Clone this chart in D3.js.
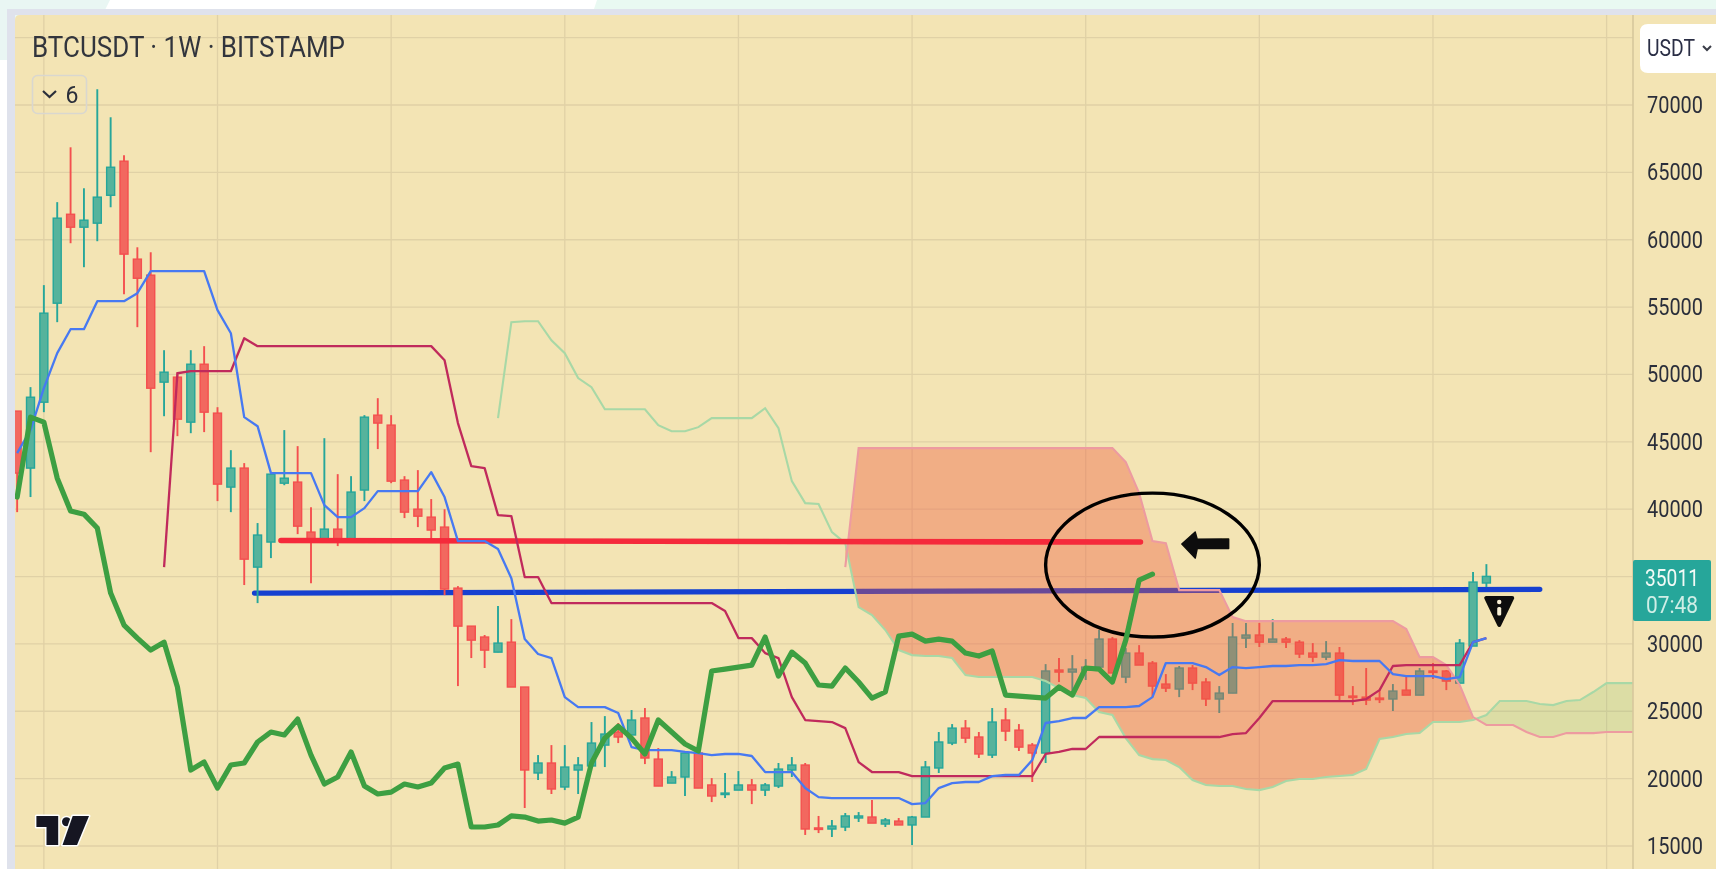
<!DOCTYPE html>
<html><head><meta charset="utf-8">
<script src="https://cdn.jsdelivr.net/npm/d3@7/dist/d3.min.js"></script>
<style>html,body{margin:0;padding:0;background:#fff;overflow:hidden}svg{display:block}</style>
</head><body><svg id="c" width="1716" height="869"></svg>
<script>
const title="BTCUSDT · 1W · BITSTAMP";
const priceTicks=[70000,65000,60000,55000,50000,45000,40000,35000,30000,25000,20000,15000];
const gridPrices=[75000,70000,65000,60000,55000,50000,45000,40000,35000,30000,25000,20000,15000];
const gridWeeks=[2,15,28,41,54,67,80,93,106,119];
const lastPrice=35011, countdown="07:48";
const opens=[47280,43050,47940,55290,61890,60930,61230,63300,65830,58560,57370,49430,49800,46460,50760,47130,41640,43050,35700,37560,41930,42010,38300,37560,38520,37700,41420,46980,46240,42160,40000,39410,38670,34140,31320,30510,29390,30130,26800,20420,21160,19380,20640,20940,22490,23460,23240,24500,21450,19670,20120,21900,19530,18860,19150,19530,19150,19450,20640,21010,16340,16260,16410,17080,17150,16630,16850,16560,17150,20790,22640,23750,23090,21750,24350,23600,22490,21900,28060,27910,28060,28280,30360,27540,29320,28580,27020,26650,28210,27170,25910,26350,30430,30660,30130,30360,30130,29320,29020,29320,26130,26050,25980,25910,26570,26200,27990,27990,27090,29840,34520];
const highs=[47280,49060,56630,62790,66860,63820,71170,69090,66270,59440,59070,51800,50170,51800,52100,47570,44380,43420,38970,42680,45870,44680,40150,45270,42600,42450,46980,48240,46980,42450,42900,40750,40000,34290,31320,30660,32810,31840,26800,21750,22490,22490,21600,24200,24640,24130,25090,25240,22270,20560,21980,21980,20040,20420,20560,19970,19670,21160,21600,21160,17230,16930,17450,17520,18410,17080,17080,17230,21310,23460,24050,24350,23460,25240,25240,24050,22640,28500,28950,29170,28870,31030,30510,29690,29910,28730,27760,28360,28430,27460,26870,31550,31550,31550,31840,30510,30280,30060,30210,29770,26870,28210,26570,27020,27610,28210,28580,28060,30360,35330,35920];
const lows=[39780,40900,47200,53880,59740,57960,59890,62410,55960,53510,44230,46900,45420,45640,45720,40600,39780,34370,33030,36370,41780,38150,34510,37560,37260,37700,40600,44460,41930,39340,38670,37560,33620,26870,28950,28210,29390,26800,17820,19900,18860,19150,18860,20940,20860,22640,23240,21080,19450,19670,18710,19300,18260,18560,19150,18110,18710,19300,20120,15820,15960,15670,16110,16780,16700,16410,16560,15070,17150,20420,22490,22640,21530,21530,22790,22050,19750,21160,27170,26350,27320,28280,27840,27090,28430,26050,26430,26050,26570,25390,24870,26350,29690,29770,30130,29690,28950,28650,28800,25830,25460,25460,25610,25020,26200,26200,27390,26570,27090,29840,34220];
const closes=[42680,48310,54550,61600,60930,61450,63160,65380,58930,57140,48980,50170,46680,50760,47200,41860,43050,36290,38080,42600,42300,38740,37630,38520,37700,41270,46830,46390,42080,39780,39480,38450,34070,31320,30280,29540,30060,26800,20640,21160,19230,20860,21010,22640,23310,23090,24350,21530,19450,20120,21900,19300,18710,18930,19530,19150,19530,20710,21010,16260,16260,16480,17230,17230,16700,16930,16560,17150,20860,22720,23750,23010,21830,24200,23530,22340,21900,27990,27910,28130,28280,30360,27840,29320,28430,26870,26720,28210,27090,25910,26350,30510,30660,30130,30360,30130,29250,29020,29320,26200,26050,25830,25910,26500,26200,27990,27910,27240,30060,34590,35011];
const chikou=[40900,46830,46460,42300,39860,39630,38600,33770,31400,30430,29540,30130,26800,20640,21230,19300,21010,21160,22720,23460,23240,24420,21750,19600,20120,21980,19450,18860,19000,19600,19380,19670,20790,21080,16410,16410,16560,17230,17150,16850,16930,16700,17150,21160,23010,23900,23010,21830,24350,23460,22570,22050,27990,28130,28280,28430,30510,27610,29390,28580,26950,26870,28210,27170,25980,26430,30580,30730,30210,30360,30210,29320,29100,29470,26200,26130,26050,25980,26800,26200,28210,28130,27170,30280,34740,35180];
const tenkan=[44160,45870,48980,51580,53360,53360,55440,55440,55440,56030,57670,57670,57670,57670,57670,54770,53060,46830,46160,42680,42680,42680,42680,40300,39410,39410,40080,41340,41340,41340,41340,42750,40900,37630,37630,37630,37040,34880,30360,29250,28950,26050,25310,25310,25310,24870,22340,22120,22120,22120,21980,21900,21750,21830,21830,21680,20490,20490,20490,19300,18630,18560,18560,18560,18560,18560,18560,18110,18190,19300,19670,19750,19750,20190,20270,20270,21380,24130,24270,24500,24500,25310,25310,25310,25390,26050,28580,28580,28580,28280,27690,28280,28210,28280,28360,28360,28430,28430,28500,28800,28730,28730,28730,27760,27610,27610,27610,27390,27540,30130,30430];
const kijunStart=11;
const kijun=[35700,50090,50240,50240,50240,50240,52690,52100,52100,52100,52100,52100,52100,52100,52100,52100,52100,52100,52100,52100,52100,51060,46390,43200,43050,39560,39490,34960,34960,33030,33030,33030,33030,33030,33030,33030,33030,33030,33030,33030,33030,33030,32440,30430,30430,29320,28950,26050,24350,24270,24200,23750,21230,20490,20490,20490,20190,20190,20190,20190,20190,20190,20190,20190,20190,20190,21830,21980,22200,22200,23090,23090,23090,23090,23090,23090,23090,23090,23090,23090,23310,23380,24500,25760,25760,25760,25760,25760,25760,25760,25910,26570,28360,28430,28430,28430,28430,28430,30130,30430];
const spanAStart=36;
const spanA=[46760,53880,53950,53950,52540,51580,49730,49060,47420,47420,47420,47420,46240,45790,45790,46090,46760,46760,46760,46760,47500,46010,42080,40450,40380,38300,37480,32730,32140,31030,29540,29170,29100,29100,28950,27690,27540,27540,27540,27540,27540,27240,26720,26200,25980,24940,24720,23010,21750,21450,21380,20860,19900,19530,19450,19450,19230,19150,19380,19820,19970,19970,20120,20190,20270,20710,22940,23090,23310,23380,24200,24200,24200,24350,24720,25760,25760,25760,25540,25460,25760,25830,26430,27090,27090,27090];
const spanBStart=62;
const spanB=[35700,44530,44530,44530,44530,44530,44530,44530,44530,44530,44530,44530,44530,44530,44530,44530,44530,44530,44530,44530,44530,43490,41190,37630,37480,33990,33990,33990,33990,31990,31690,31690,31690,31690,31690,31690,31690,31690,31690,31690,31690,31690,31100,29020,29020,28430,26950,24570,23980,23980,23980,23460,23090,23090,23380,23380,23380,23460,23460,23460];
const cloudSwitchWeek=109;
const resistanceLine=[[19.75,37670],[84.1,37560]];
const supportLine=[[17.77,33770],[114,34050]];
const circleWeeks=[77,93], circlePrices=[30510,41190];
const arrowShape=[[87.2,37410],[88.2,38300],[88.35,37760],[90.7,37790],[90.7,37080],[88.35,37090],[88.2,36370]];

const svg=d3.select("#c");
const defs=svg.append("defs");
defs.append("filter").attr("id","soft")
  .attr("filterUnits","userSpaceOnUse").attr("x",0).attr("y",0).attr("width",1716).attr("height",869)
  .append("feGaussianBlur").attr("stdDeviation",0.75);
defs.append("clipPath").attr("id","plot").append("rect").attr("x",15).attr("y",15).attr("width",1618).attr("height",854);

const x=d3.scaleLinear().domain([0,110]).range([17.15,1486.4]);
const y=d3.scaleLinear().domain([15000,70000]).range([846,105]);

// page chrome
const bg=svg.append("g");
bg.append("rect").attr("width",1716).attr("height",869).attr("fill","#fff");
bg.append("path").attr("d","M0,0H110L100,20L60,60H7V60H0Z").attr("fill","#e9f6f3");
bg.append("path").attr("d","M597,0H1716V9H594Z").attr("fill","#e9f9f2");
bg.append("rect").attr("x",7).attr("y",9).attr("width",1709).attr("height",6).attr("fill","#dfe2ec");
bg.append("rect").attr("x",7).attr("y",9).attr("width",8).attr("height",860).attr("fill","#dfe2ec");
bg.append("path").attr("d","M20,15H1716V869H15V20Q15,15 20,15Z").attr("fill","#f3e4b4");

const root=svg.append("g").attr("filter","url(#soft)");
const plot=root.append("g").attr("clip-path","url(#plot)");

// grid
plot.append("g").selectAll("line").data(gridPrices).join("line")
  .attr("x1",15).attr("x2",1633).attr("y1",d=>y(d)).attr("y2",d=>y(d))
  .attr("stroke","#e0d1a6").attr("stroke-width",1.3);
plot.append("g").selectAll("line").data(gridWeeks).join("line")
  .attr("x1",d=>x(d)).attr("x2",d=>x(d)).attr("y1",15).attr("y2",869)
  .attr("stroke","#e0d1a6").attr("stroke-width",1.3);

const pts=(arr,start)=>arr.map((v,i)=>[i+start,v]);
const line=d3.line().x(d=>x(d[0])).y(d=>y(d[1]));

// blue level sits beneath the cloud
plot.append("path").attr("d",line(supportLine)).attr("fill","none")
  .attr("stroke","#1440d0").attr("stroke-width",5.2).attr("stroke-linecap","round");

// candles
const UP="#26a69a",DOWN="#f4504f";
const candles=opens.map((o,i)=>({i,o,h:highs[i],l:lows[i],c:closes[i]}));
const cg=plot.append("g").selectAll("g").data(candles).join("g");
cg.append("line").attr("x1",d=>x(d.i)).attr("x2",d=>x(d.i)).attr("y1",d=>y(d.h)).attr("y2",d=>y(d.l))
  .attr("stroke",d=>d.c>=d.o?UP:DOWN).attr("stroke-width",1.9);
cg.append("rect").attr("x",d=>x(d.i)-4).attr("width",8)
  .attr("y",d=>y(Math.max(d.o,d.c))).attr("height",d=>Math.max(1.5,Math.abs(y(d.o)-y(d.c))))
  .attr("fill",d=>d.c>=d.o?"#56b39c":"#f2675e")
  .attr("stroke",d=>d.c>=d.o?UP:DOWN).attr("stroke-width",1.4);

// cloud
const aAt=i=>spanA[i-spanAStart], bAt=i=>spanB[i-spanBStart];
const area=d3.area().x(d=>x(d)).y0(d=>y(aAt(d))).y1(d=>y(bAt(d)));
const lastWeek=spanBStart+spanB.length-1;
plot.append("path").attr("d",area(d3.range(spanBStart,cloudSwitchWeek+1))).attr("fill","#f0583c").attr("fill-opacity",0.38);
plot.append("path").attr("d",area(d3.range(cloudSwitchWeek,lastWeek+1))).attr("fill","#4caf50").attr("fill-opacity",0.13);
plot.append("path").attr("d",line(pts(spanA,spanAStart))).attr("fill","none").attr("stroke","#a8d8a6").attr("stroke-width",2.1);
plot.append("path").attr("d",line(pts(spanB,spanBStart))).attr("fill","none").attr("stroke","#ed9ba0").attr("stroke-width",2.1);

// red level + circle annotation
plot.append("path").attr("d",line(resistanceLine)).attr("fill","none")
  .attr("stroke","#f52a3a").attr("stroke-width",5.6).attr("stroke-linecap","round");
plot.append("ellipse")
  .attr("cx",(x(circleWeeks[0])+x(circleWeeks[1]))/2).attr("cy",(y(circlePrices[0])+y(circlePrices[1]))/2)
  .attr("rx",(x(circleWeeks[1])-x(circleWeeks[0]))/2).attr("ry",(y(circlePrices[0])-y(circlePrices[1]))/2)
  .attr("fill","none").attr("stroke","#060302").attr("stroke-width",3.4);

// indicator lines
plot.append("path").attr("d",line(pts(kijun,kijunStart))).attr("fill","none").attr("stroke","#c02a5c").attr("stroke-width",2.3).attr("stroke-linejoin","round");
plot.append("path").attr("d",line(pts(tenkan,0))).attr("fill","none").attr("stroke","#4679f2").attr("stroke-width",2.3).attr("stroke-linejoin","round");
plot.append("path").attr("d",line(pts(chikou,0))).attr("fill","none").attr("stroke","#3d9f42").attr("stroke-width",5.2).attr("stroke-linejoin","round").attr("stroke-linecap","round");

// arrow
plot.append("path").attr("d",line(arrowShape)+"Z").attr("fill","#0a0a08").attr("stroke","#0a0a08").attr("stroke-width",1.5).attr("stroke-linejoin","round");

// warning triangle
const warn=root.append("g").attr("transform",`translate(${x(110.96)},597)`);
warn.append("path").attr("d","M-13,1H13L0,28Z").attr("fill","#0d0b08").attr("stroke","#0d0b08").attr("stroke-width",4).attr("stroke-linejoin","round");
warn.append("circle").attr("cy",5).attr("r",2.2).attr("fill","#f6efd6");
warn.append("rect").attr("x",-2).attr("y",10).attr("width",4).attr("height",8.5).attr("rx",1.5).attr("fill","#f6efd6");

// axis
const ink="#2b2f3a";
root.append("line").attr("x1",1633).attr("x2",1633).attr("y1",15).attr("y2",869).attr("stroke","#d6c79c").attr("stroke-width",1.6);
const axis=root.append("g").attr("transform","translate(1647,0)")
  .call(d3.axisRight(y).tickValues(priceTicks).tickSize(0).tickPadding(0).tickFormat(d3.format("d")));
axis.select(".domain").remove();
axis.selectAll("text").attr("font-family","Roboto").attr("font-size",23).attr("fill",ink)
  .attr("textLength",56).attr("lengthAdjust","spacingAndGlyphs");

// price tag
root.append("rect").attr("x",1633).attr("y",560).attr("width",78).attr("height",61).attr("rx",2).attr("fill","#26a69a");
root.append("text").attr("x",1672).attr("y",586).attr("text-anchor","middle").attr("font-family","Roboto").attr("font-size",23)
  .attr("textLength",54).attr("lengthAdjust","spacingAndGlyphs").attr("fill","#f2faf6").text(d3.format("d")(lastPrice));
root.append("text").attr("x",1672).attr("y",613).attr("text-anchor","middle").attr("font-family","Roboto").attr("font-size",23)
  .attr("textLength",52).attr("lengthAdjust","spacingAndGlyphs").attr("fill","#cfeee6").text(countdown);

// title + badge
root.append("text").attr("x",32).attr("y",57).attr("font-family","Roboto").attr("font-size",29)
  .attr("textLength",313).attr("lengthAdjust","spacingAndGlyphs").attr("fill","#33363c").text(title);
root.append("rect").attr("x",32.5).attr("y",75.5).attr("width",54).attr("height",38).attr("rx",5)
  .attr("fill","none").attr("stroke","#d9d7cf").attr("stroke-width",1.6);
root.append("path").attr("d","M43,91L49.5,97L56,91").attr("fill","none").attr("stroke","#2b2f3a").attr("stroke-width",2.2);
root.append("text").attr("x",72).attr("y",103).attr("text-anchor","middle").attr("font-family","Roboto").attr("font-size",23)
  .attr("fill","#2b2f3a").text("6");

// currency button
root.append("path").attr("d","M1716,24H1648Q1640,24 1640,32V65Q1640,73 1648,73H1716Z").attr("fill","#fff");
root.append("text").attr("x",1647).attr("y",56).attr("font-family","Roboto").attr("font-size",23)
  .attr("textLength",48).attr("lengthAdjust","spacingAndGlyphs").attr("fill","#2a2e45").text("USDT");
root.append("path").attr("d","M1703,46L1707,50L1711,46").attr("fill","none").attr("stroke","#3a3d48").attr("stroke-width",2);

// logo
const logo=root.append("g").attr("fill","#131722").attr("stroke","#fff").attr("stroke-width",3).attr("paint-order","stroke").attr("stroke-linejoin","round");
logo.append("path").attr("d","M36.4,816H58.2V845H46.5V827H36.4Z");
logo.append("circle").attr("cx",66.5).attr("cy",821.7).attr("r",4.5);
logo.append("path").attr("d","M72.7,816H89L77,845H62.5Z");
</script></body></html>
